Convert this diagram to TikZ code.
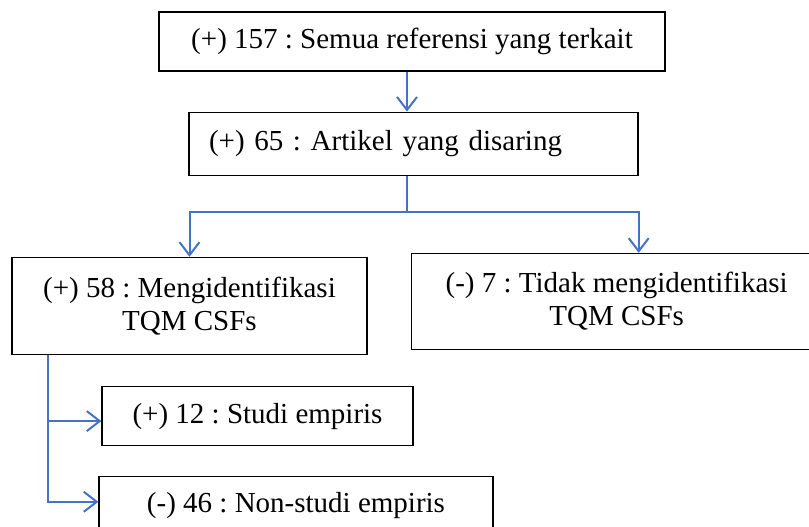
\documentclass[tikz,border=0pt]{standalone}
\usepackage{fontspec}
\setmainfont{Liberation Serif}
\usepackage{xcolor}
\usetikzlibrary{positioning, arrows.meta}
\definecolor{flowblue}{RGB}{68,114,196}
\frenchspacing

\begin{document}
\begin{tikzpicture}[x=1pt, y=1pt,
    box/.style={draw, line width=1.2pt, inner sep=0pt, align=center,
                font=\fontsize{29}{33}\selectfont},
    arr/.style={-{Straight Barb[length=13pt, width=20pt]}, line width=2pt, color=flowblue},
    link/.style={line width=2pt, color=flowblue}]

  \useasboundingbox (0,0) rectangle (809,527);
  \clip (0,0) rectangle (809,527);

  \node[box, minimum width=506pt, minimum height=59pt] (all) at (412,485.5)
        {(+) 157 : Semua referensi yang terkait};
  \node[box, minimum width=449pt, minimum height=63pt, text width=409pt, align=left,
        below=40pt of all, xshift=1.5pt] (screened) {(+) 65 : Artikel yang disaring};
  \node[box, minimum width=355pt, minimum height=97pt,
        below=81pt of screened, xshift=-224pt] (ident) {(+) 58 : Mengidentifikasi\\TQM CSFs};
  \node[box, minimum width=411pt, minimum height=96pt,
        right=43pt of ident, yshift=4.5pt] (noident) {(-) 7 : Tidak mengidentifikasi\\TQM CSFs};
  \node[box, minimum width=311pt, minimum height=59pt,
        below=31pt of ident, xshift=68pt] (empiric) {(+) 12 : Studi empiris};
  \node[box, minimum width=394pt, minimum height=58pt,
        below=30pt of empiric, xshift=38.5pt] (nonempiric) {(-) 46 : Non-studi empiris};

  % branch points
  \coordinate (split) at (407,315);
  \coordinate (trunk) at (48,0);

  \draw[arr] (all.south -| split) -- (screened.north -| split);
  \draw[link] (screened.south -| split) -- (split);
  \draw[arr] (split) -| (ident.north);
  \draw[arr] (split) -| ([xshift=22pt]noident.north);

  \draw[arr] (ident.south -| trunk) |- ([yshift=-5pt]empiric.west);
  \draw[arr] (ident.south -| trunk) |- ([yshift=4pt]nonempiric.west);
\end{tikzpicture}
\end{document}
